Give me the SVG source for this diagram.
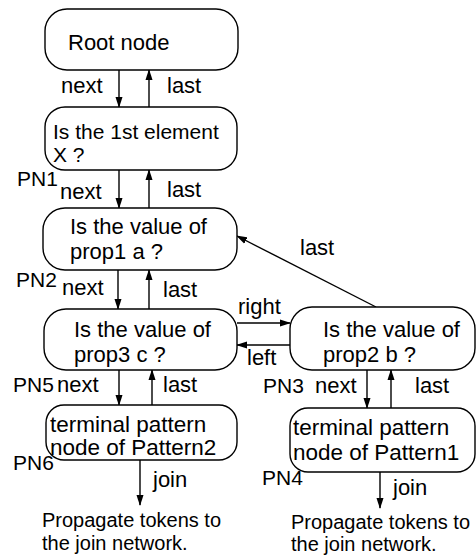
<svg xmlns="http://www.w3.org/2000/svg" width="476" height="559" viewBox="0 0 476 559">
  <style>
    text { font-family: "Liberation Sans", Arial, sans-serif; fill: #000; }
    .node rect { fill: #fff; stroke: #000; stroke-width: 1.4; }
    .lbl { font-size: 22px; }
    .pn { font-size: 21px; }
    .t22 { font-size: 22px; }
    .t21 { font-size: 21px; }
    .t22b { font-size: 22.5px; }
    .note { font-size: 20px; }
    .conn line { stroke: #000; stroke-width: 1.4; marker-end: url(#arrow); }
  </style>
  <defs>
    <marker id="arrow" markerUnits="userSpaceOnUse" markerWidth="11" markerHeight="8" refX="10" refY="4" orient="auto">
      <path d="M0,0.5 L11,4 L0,7.5 Z" fill="#000"/>
    </marker>
  </defs>
  <rect width="476" height="559" fill="#fff"/>

  <!-- connectors -->
  <g id="connectors" class="conn">
    <line x1="119" y1="70" x2="119" y2="107"/>
    <line x1="149" y1="107" x2="149" y2="70"/>
    <line x1="119" y1="170" x2="119" y2="208"/>
    <line x1="149" y1="208" x2="149" y2="170"/>
    <line x1="118" y1="270" x2="118" y2="309"/>
    <line x1="149" y1="309" x2="149" y2="270"/>
    <line x1="119" y1="370" x2="119" y2="405"/>
    <line x1="152" y1="405" x2="152" y2="370"/>
    <line x1="140" y1="460" x2="140" y2="505"/>
    <line x1="237" y1="323" x2="290" y2="323"/>
    <line x1="290" y1="345" x2="237" y2="345"/>
    <line x1="376" y1="307" x2="237" y2="236"/>
    <line x1="367" y1="370" x2="367" y2="408"/>
    <line x1="391" y1="408" x2="391" y2="370"/>
    <line x1="380" y1="472" x2="380" y2="508"/>
  </g>

  <!-- connector labels -->
  <g id="labels" class="lbl">
    <text x="61" y="93">next</text>
    <text x="167" y="93">last</text>
    <text class="pn" x="17" y="186">PN1</text>
    <text x="60" y="199">next</text>
    <text x="167" y="197">last</text>
    <text class="pn" x="16" y="287">PN2</text>
    <text x="62" y="295">next</text>
    <text x="163" y="297">last</text>
    <text class="pn" x="13" y="392">PN5</text>
    <text x="57" y="392">next</text>
    <text x="163" y="392">last</text>
    <text class="pn" x="13" y="470">PN6</text>
    <text x="153" y="487">join</text>
    <text x="300" y="255">last</text>
    <text x="238" y="314">right</text>
    <text x="247" y="365">left</text>
    <text class="pn" x="263" y="393">PN3</text>
    <text x="315" y="393">next</text>
    <text x="415" y="393">last</text>
    <text class="pn" x="262" y="485">PN4</text>
    <text x="393" y="495">join</text>
  </g>

  <g id="root" class="node">
    <rect x="45" y="9" width="193" height="61" rx="22" ry="22"/>
    <text class="t22" x="68" y="50">Root node</text>
  </g>

  <g id="pn1" class="node">
    <rect x="45" y="107" width="192" height="63" rx="20" ry="20"/>
    <text class="t21" x="53" y="139">Is the 1st element</text>
    <text class="t21" x="53" y="162">X ?</text>
  </g>

  <g id="pn2" class="node">
    <rect x="43" y="208" width="194" height="62" rx="22" ry="22"/>
    <text class="t22" x="70" y="234">Is the value of</text>
    <text class="t22" x="70" y="259">prop1 a ?</text>
  </g>

  <g id="pn5" class="node">
    <rect x="44" y="309" width="193" height="61" rx="22" ry="22"/>
    <text class="t22" x="74" y="337">Is the value of</text>
    <text class="t22" x="74" y="362">prop3 c ?</text>
  </g>

  <g id="pn3" class="node">
    <rect x="290" y="307" width="185" height="63" rx="22" ry="22"/>
    <text class="t22" x="323" y="337">Is the value of</text>
    <text class="t22" x="323" y="362">prop2 b ?</text>
  </g>

  <g id="pn6" class="node">
    <rect x="46" y="405" width="191" height="55" rx="18" ry="18"/>
    <text class="t22b" x="50" y="432">terminal pattern</text>
    <text class="t22b" x="50" y="455">node of Pattern2</text>
  </g>

  <g id="pn4" class="node">
    <rect x="290" y="408" width="185" height="64" rx="18" ry="18"/>
    <text class="t22b" x="293" y="435">terminal pattern</text>
    <text class="t22b" x="293" y="460">node of Pattern1</text>
  </g>

  <g id="notes" class="note">
    <text x="42" y="527">Propagate tokens to</text>
    <text x="42" y="550">the join network.</text>
    <text x="291" y="529">Propagate tokens to</text>
    <text x="291" y="551">the join network.</text>
  </g>
</svg>
